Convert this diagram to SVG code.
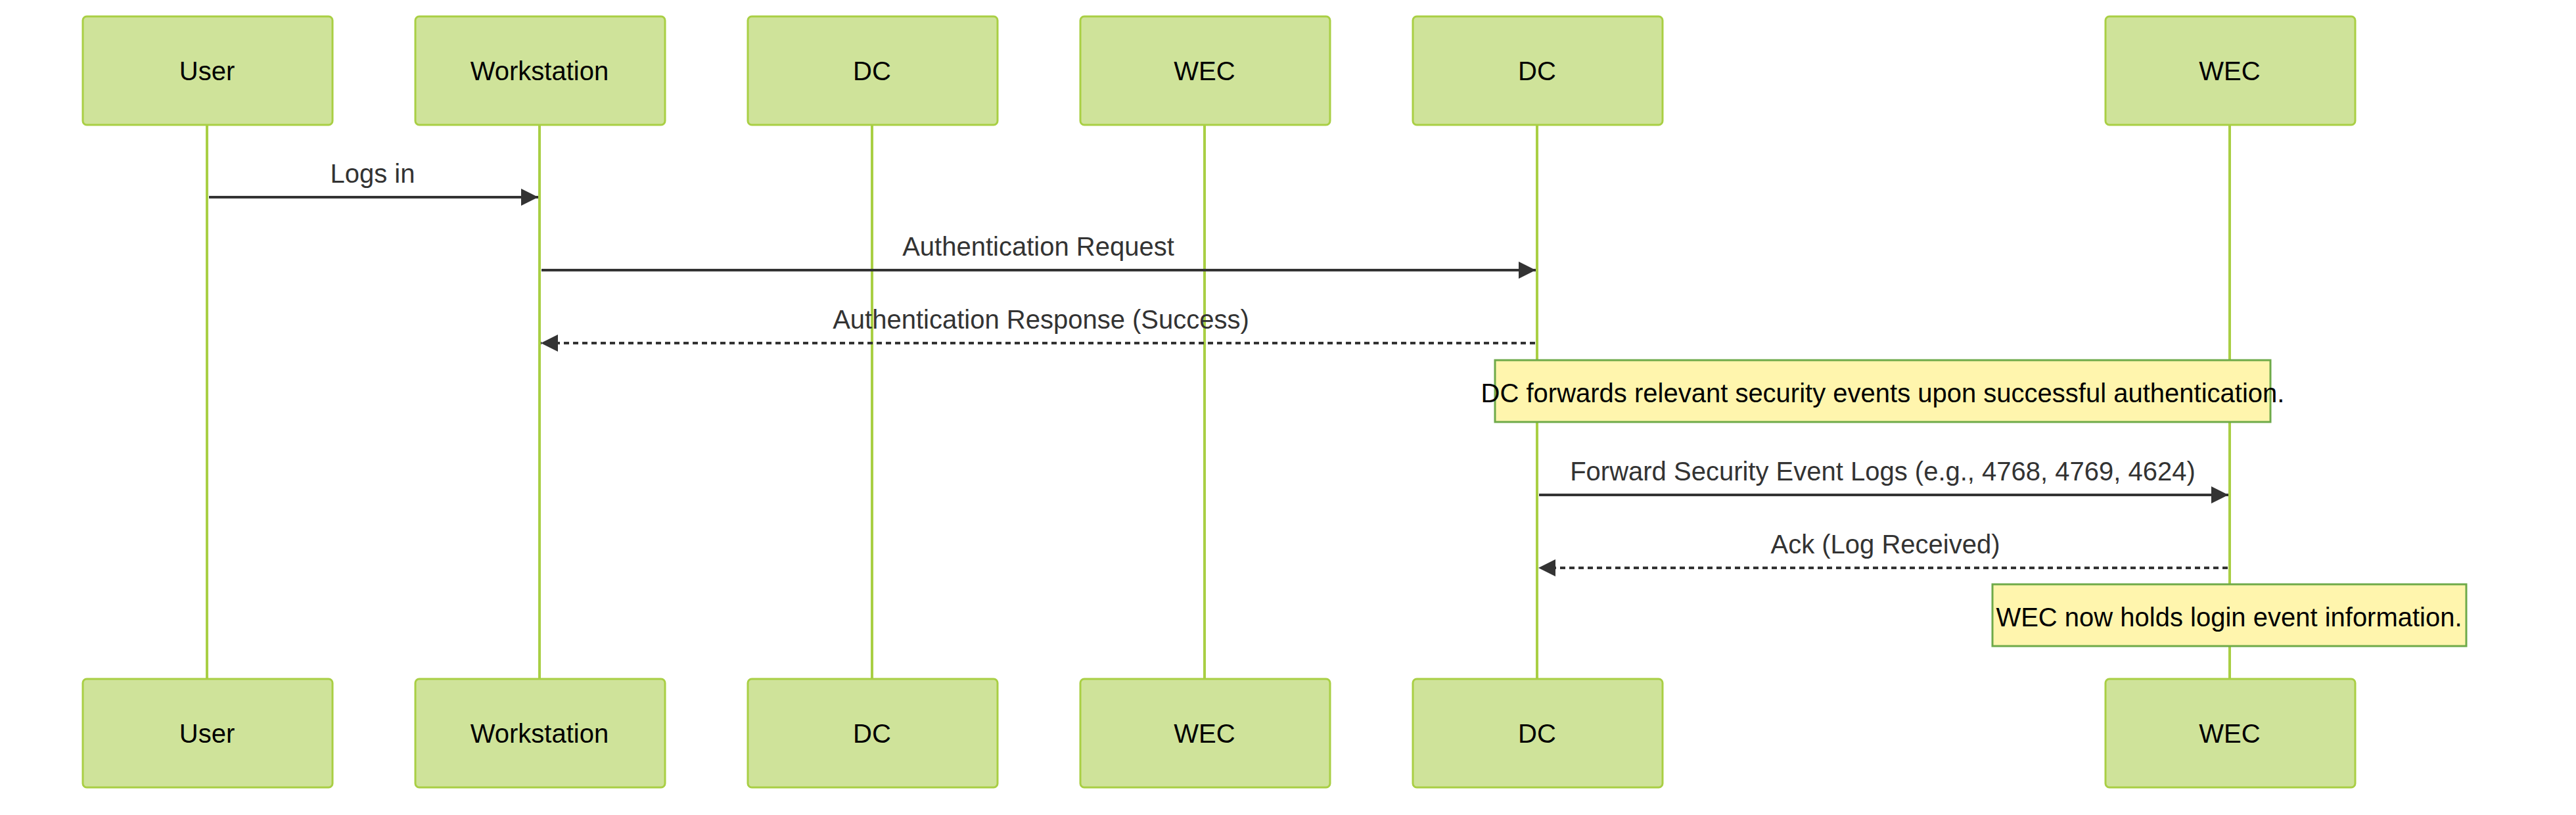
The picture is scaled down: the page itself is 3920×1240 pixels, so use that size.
<svg xmlns="http://www.w3.org/2000/svg" width="3920" height="1240" viewBox="0 0 3920 1240">
<style>
.actor{fill:#cfe39a;stroke:#a9cf44;stroke-width:3}
.at{font-family:"Liberation Sans",Arial,sans-serif;font-size:40px;fill:#000;text-anchor:middle;dominant-baseline:central}
.life{stroke:#a9cf44;stroke-width:4}
.msg{stroke:#333;stroke-width:4;fill:none}
.dash{stroke-dasharray:8,6}
.mt{font-family:"Liberation Sans",Arial,sans-serif;font-size:40px;fill:#333;text-anchor:middle;dominant-baseline:central}
.note{fill:#fff5ad;stroke:#6eaa49;stroke-width:3}
.nt{font-family:"Liberation Sans",Arial,sans-serif;font-size:40px;fill:#000;text-anchor:middle;dominant-baseline:central}
</style>
<defs>
<marker id="ah" viewBox="0 0 10 10" refX="10" refY="5" markerWidth="7" markerHeight="6.5" markerUnits="strokeWidth" orient="auto"><path d="M0,0L10,5L0,10z" fill="#333"/></marker>
</defs>
<rect width="3920" height="1240" fill="#fff"/>
<g id="lifelines">
<line class="life" x1="315" y1="190" x2="315" y2="1033"/>
<line class="life" x1="821" y1="190" x2="821" y2="1033"/>
<line class="life" x1="1327" y1="190" x2="1327" y2="1033"/>
<line class="life" x1="1833" y1="190" x2="1833" y2="1033"/>
<line class="life" x1="2339" y1="190" x2="2339" y2="1033"/>
<line class="life" x1="3393" y1="190" x2="3393" y2="1033"/>
</g>
<g id="user"><rect class="actor" x="126" y="25" width="380" height="165" rx="6"/><text class="at" x="315" y="108">User</text>
<rect class="actor" x="126" y="1033" width="380" height="165" rx="6"/><text class="at" x="315" y="1116">User</text></g>
<g id="workstation"><rect class="actor" x="632" y="25" width="380" height="165" rx="6"/><text class="at" x="821" y="108">Workstation</text>
<rect class="actor" x="632" y="1033" width="380" height="165" rx="6"/><text class="at" x="821" y="1116">Workstation</text></g>
<g id="dc1"><rect class="actor" x="1138" y="25" width="380" height="165" rx="6"/><text class="at" x="1327" y="108">DC</text>
<rect class="actor" x="1138" y="1033" width="380" height="165" rx="6"/><text class="at" x="1327" y="1116">DC</text></g>
<g id="wec1"><rect class="actor" x="1644" y="25" width="380" height="165" rx="6"/><text class="at" x="1833" y="108">WEC</text>
<rect class="actor" x="1644" y="1033" width="380" height="165" rx="6"/><text class="at" x="1833" y="1116">WEC</text></g>
<g id="dc2"><rect class="actor" x="2150" y="25" width="380" height="165" rx="6"/><text class="at" x="2339" y="108">DC</text>
<rect class="actor" x="2150" y="1033" width="380" height="165" rx="6"/><text class="at" x="2339" y="1116">DC</text></g>
<g id="wec2"><rect class="actor" x="3204" y="25" width="380" height="165" rx="6"/><text class="at" x="3393" y="108">WEC</text>
<rect class="actor" x="3204" y="1033" width="380" height="165" rx="6"/><text class="at" x="3393" y="1116">WEC</text></g>
<g id="note1"><rect class="note" x="2275" y="548" width="1180" height="94"/><text class="nt" x="2865" y="598">DC forwards relevant security events upon successful authentication.</text></g>
<g id="note2"><rect class="note" x="3032" y="889" width="721" height="94"/><text class="nt" x="3392" y="939">WEC now holds login event information.</text></g>
<g id="connectors">
<line class="msg" x1="318" y1="300" x2="819" y2="300" marker-end="url(#ah)"/>
<text class="mt" x="567" y="264">Logs in</text>
<line class="msg" x1="824" y1="411" x2="2337" y2="411" marker-end="url(#ah)"/>
<text class="mt" x="1580" y="375">Authentication Request</text>
<line class="msg dash" x1="2336" y1="522" x2="823" y2="522" marker-end="url(#ah)"/>
<text class="mt" x="1584" y="486">Authentication Response (Success)</text>
<line class="msg" x1="2342" y1="753" x2="3391" y2="753" marker-end="url(#ah)"/>
<text class="mt" x="2865" y="717">Forward Security Event Logs (e.g., 4768, 4769, 4624)</text>
<line class="msg dash" x1="3390" y1="864" x2="2341" y2="864" marker-end="url(#ah)"/>
<text class="mt" x="2869" y="828">Ack (Log Received)</text>
</g>
</svg>
